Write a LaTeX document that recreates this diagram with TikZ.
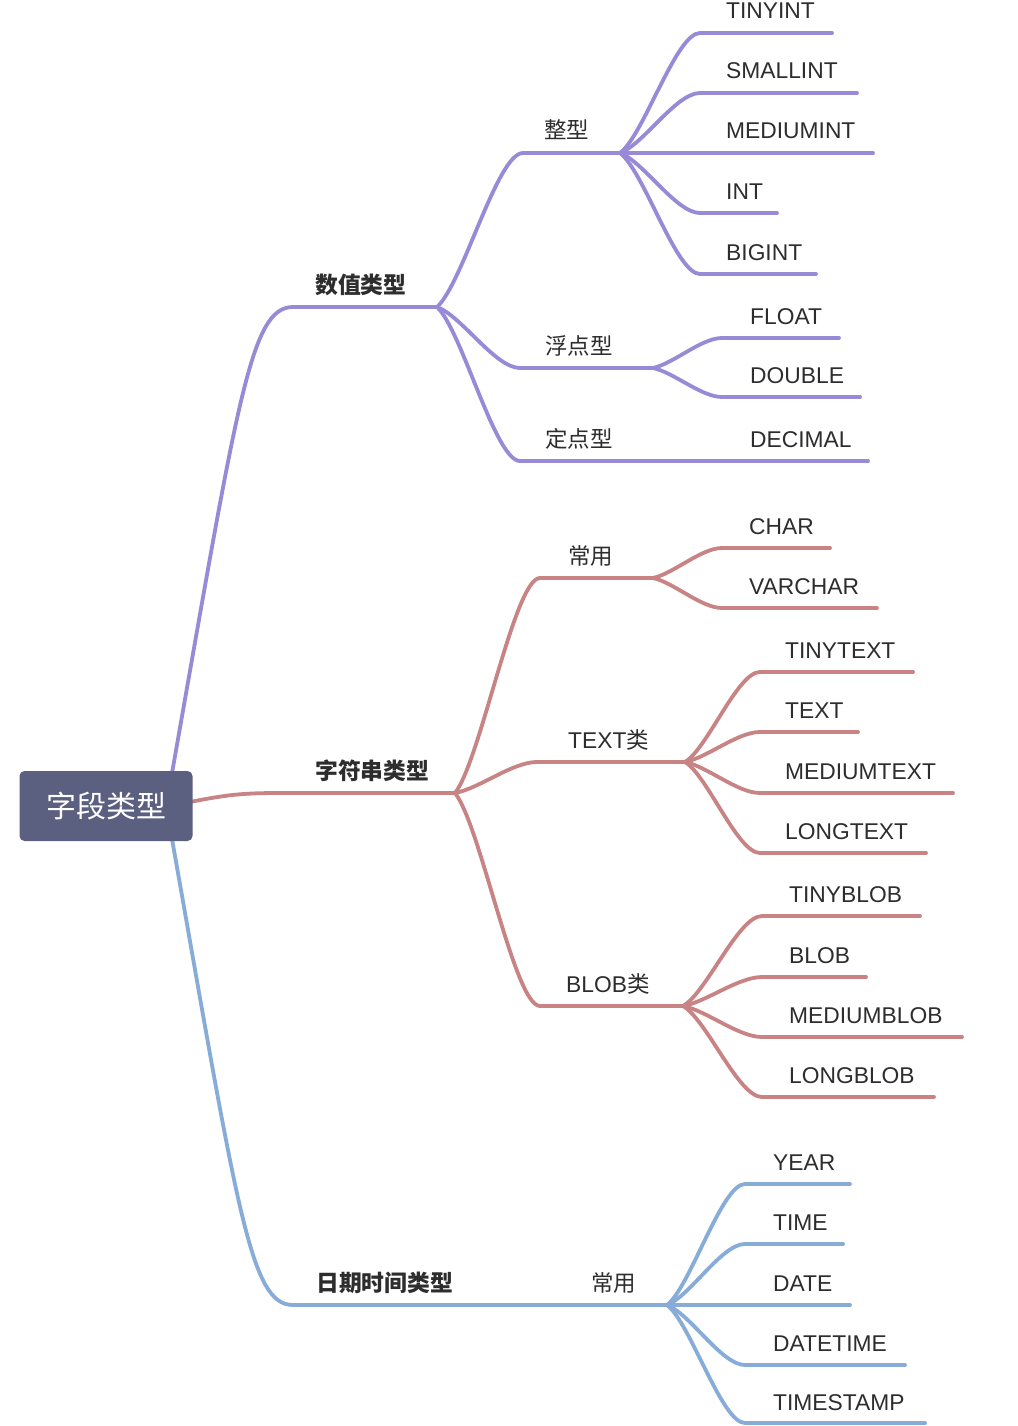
\documentclass[tikz,border=0pt]{standalone}
\usepackage{fontspec}
\setmainfont{Liberation Sans}
\newfontfamily\cjk{Noto Sans CJK SC}
\usetikzlibrary{calc}
\definecolor{pur}{RGB}{152,138,214}
\definecolor{redb}{RGB}{200,132,132}
\definecolor{blu}{RGB}{135,172,215}
\definecolor{txt}{RGB}{45,45,45}
\definecolor{rootfill}{RGB}{91,95,128}
\newcommand\mmlink[3]{\draw[#3] let \p1=(#1), \p2=(#2) in (\p1) .. controls ({\x1+0.3*(\x2-\x1)},{\y1+0.15*(\y2-\y1)}) and ({\x1+0.7*(\x2-\x1)},\y2) .. (\p2);}
\begin{document}
\begin{tikzpicture}[x=1pt,y=-1pt,
  pline/.style={draw=pur,line width=3.8pt,line cap=round},
  rline/.style={draw=redb,line width=3.8pt,line cap=round},
  bline/.style={draw=blu,line width=3.8pt,line cap=round},
  lbl/.style={anchor=base west,inner sep=0pt,text=txt,font=\fontsize{22.8}{24}\selectfont},
  zlbl/.style={anchor=base west,inner sep=0pt,text=txt,font=\cjk\fontsize{22.5}{24}\selectfont},
  mlbl/.style={anchor=base west,inner sep=0pt,text=txt,font=\fontsize{22.8}{24}\selectfont},
  onelbl/.style={anchor=base west,inner sep=0pt,text=txt,font=\cjk\bfseries\fontsize{22.8}{24}\selectfont},
  rootbox/.style={fill=rootfill,rounded corners=5pt,minimum width=173pt,minimum height=70pt,inner sep=0pt,text=white,font=\cjk\fontsize{30}{31}\selectfont}]
\useasboundingbox (0,0) rectangle (1017,1426);
\fill[white] (0,0) rectangle (1017,1426);

% ---------- coordinates ----------
\coordinate (r1) at (169,790);
\coordinate (r2) at (185,803);
\coordinate (r3) at (169,822);
% numeric
\coordinate (numS) at (293,307); \coordinate (numE) at (437,307);
\coordinate (intS) at (523,153); \coordinate (intE) at (620,153);
\coordinate (tiS) at (700,33);  \coordinate (tiE) at (832,33);
\coordinate (siS) at (700,93);  \coordinate (siE) at (857,93);
\coordinate (miS) at (700,153); \coordinate (miE) at (873,153);
\coordinate (inS) at (700,213); \coordinate (inE) at (777,213);
\coordinate (biS) at (700,274); \coordinate (biE) at (816,274);
\coordinate (fltS) at (520,368); \coordinate (fltE) at (653,368);
\coordinate (flS) at (722,338); \coordinate (flE) at (839,338);
\coordinate (doS) at (722,397); \coordinate (doE) at (860,397);
\coordinate (fixS) at (520,461); \coordinate (fixE) at (653,461);
\coordinate (deS) at (722,461); \coordinate (deE) at (868,461);
% string
\coordinate (strS) at (280,793); \coordinate (strE) at (455,793);
\coordinate (cyS) at (540,578); \coordinate (cyE) at (653,578);
\coordinate (chS) at (722,548); \coordinate (chE) at (830,548);
\coordinate (vcS) at (722,608); \coordinate (vcE) at (877,608);
\coordinate (txS) at (537,762); \coordinate (txE) at (685,762);
\coordinate (ttS) at (760,672); \coordinate (ttE) at (913,672);
\coordinate (teS) at (760,732); \coordinate (teE) at (858,732);
\coordinate (mtS) at (760,793); \coordinate (mtE) at (953,793);
\coordinate (ltS) at (760,853); \coordinate (ltE) at (926,853);
\coordinate (blS) at (540,1006); \coordinate (blE) at (683,1006);
\coordinate (tbS) at (762,916); \coordinate (tbE) at (920,916);
\coordinate (bbS) at (762,977); \coordinate (bbE) at (866,977);
\coordinate (mbS) at (762,1037); \coordinate (mbE) at (962,1037);
\coordinate (lbS) at (762,1097); \coordinate (lbE) at (934,1097);
% date
\coordinate (dtS) at (293,1305); \coordinate (dtE) at (455,1305);
\coordinate (cy2S) at (570,1305); \coordinate (cy2E) at (667,1305);
\coordinate (yrS) at (745,1184); \coordinate (yrE) at (850,1184);
\coordinate (tmS) at (745,1244); \coordinate (tmE) at (843,1244);
\coordinate (daS) at (745,1305); \coordinate (daE) at (850,1305);
\coordinate (dmS) at (745,1365); \coordinate (dmE) at (905,1365);
\coordinate (tsS) at (745,1423); \coordinate (tsE) at (925,1423);

% ---------- purple branch ----------
\draw[pline] (r1) .. controls (238,400) and (250,307) .. (numS);
\draw[pline] (numS) -- (numE);
\mmlink{numE}{intS}{pline} \draw[pline] (intS) -- (intE);
\mmlink{intE}{tiS}{pline} \draw[pline] (tiS) -- (tiE);
\mmlink{intE}{siS}{pline} \draw[pline] (siS) -- (siE);
\mmlink{intE}{miS}{pline} \draw[pline] (miS) -- (miE);
\mmlink{intE}{inS}{pline} \draw[pline] (inS) -- (inE);
\mmlink{intE}{biS}{pline} \draw[pline] (biS) -- (biE);
\mmlink{numE}{fltS}{pline} \draw[pline] (fltS) -- (fltE);
\mmlink{fltE}{flS}{pline} \draw[pline] (flS) -- (flE);
\mmlink{fltE}{doS}{pline} \draw[pline] (doS) -- (doE);
\mmlink{numE}{fixS}{pline} \draw[pline] (fixS) -- (fixE);
\draw[pline] (fixE) -- (deS) -- (deE);

% ---------- red branch ----------
\draw[rline] (r2) .. controls (225,795) and (240,793) .. (strS);
\draw[rline] (strS) -- (strE);
\mmlink{strE}{cyS}{rline} \draw[rline] (cyS) -- (cyE);
\mmlink{cyE}{chS}{rline} \draw[rline] (chS) -- (chE);
\mmlink{cyE}{vcS}{rline} \draw[rline] (vcS) -- (vcE);
\mmlink{strE}{txS}{rline} \draw[rline] (txS) -- (txE);
\mmlink{txE}{ttS}{rline} \draw[rline] (ttS) -- (ttE);
\mmlink{txE}{teS}{rline} \draw[rline] (teS) -- (teE);
\mmlink{txE}{mtS}{rline} \draw[rline] (mtS) -- (mtE);
\mmlink{txE}{ltS}{rline} \draw[rline] (ltS) -- (ltE);
\mmlink{strE}{blS}{rline} \draw[rline] (blS) -- (blE);
\mmlink{blE}{tbS}{rline} \draw[rline] (tbS) -- (tbE);
\mmlink{blE}{bbS}{rline} \draw[rline] (bbS) -- (bbE);
\mmlink{blE}{mbS}{rline} \draw[rline] (mbS) -- (mbE);
\mmlink{blE}{lbS}{rline} \draw[rline] (lbS) -- (lbE);

% ---------- blue branch ----------
\draw[bline] (r3) .. controls (238,1212) and (250,1305) .. (dtS);
\draw[bline] (dtS) -- (dtE) -- (cy2S) -- (cy2E);
\mmlink{cy2E}{yrS}{bline} \draw[bline] (yrS) -- (yrE);
\mmlink{cy2E}{tmS}{bline} \draw[bline] (tmS) -- (tmE);
\mmlink{cy2E}{daS}{bline} \draw[bline] (daS) -- (daE);
\mmlink{cy2E}{dmS}{bline} \draw[bline] (dmS) -- (dmE);
\mmlink{cy2E}{tsS}{bline} \draw[bline] (tsS) -- (tsE);

% ---------- root ----------
\node[rootbox] (root) at (106,806) {字段类型};

% ---------- labels ----------
\node[onelbl] (num) at (315,293) {数值类型};
\node[zlbl] (int) at (544,139) {整型};
\node[lbl] (ti) at (726,19) {TINYINT};
\node[lbl] (si) at (726,79) {SMALLINT};
\node[lbl] (mi) at (726,139) {MEDIUMINT};
\node[lbl] (in) at (726,199) {INT};
\node[lbl] (bi) at (726,260) {BIGINT};
\node[zlbl] (flt) at (545,354) {浮点型};
\node[lbl] (fl) at (750,324) {FLOAT};
\node[lbl] (do) at (750,383) {DOUBLE};
\node[zlbl] (fix) at (545,447) {定点型};
\node[lbl] (de) at (750,447) {DECIMAL};

\node[onelbl] (str) at (315,779) {字符串类型};
\node[zlbl] (cy) at (568,564) {常用};
\node[lbl] (ch) at (749,534) {CHAR};
\node[lbl] (vc) at (749,594) {VARCHAR};
\node[mlbl] (tx) at (568,748) {TEXT{\cjk\fontsize{22.5}{24}\selectfont 类}};
\node[lbl] (tt) at (785,658) {TINYTEXT};
\node[lbl] (te) at (785,718) {TEXT};
\node[lbl] (mt) at (785,779) {MEDIUMTEXT};
\node[lbl] (lt) at (785,839) {LONGTEXT};
\node[mlbl] (bl) at (566,992) {BLOB{\cjk\fontsize{22.5}{24}\selectfont 类}};
\node[lbl] (tb) at (789,902) {TINYBLOB};
\node[lbl] (bb) at (789,963) {BLOB};
\node[lbl] (mb) at (789,1023) {MEDIUMBLOB};
\node[lbl] (lb) at (789,1083) {LONGBLOB};

\node[onelbl] (dt) at (316,1291) {日期时间类型};
\node[zlbl] (cy2) at (591,1291) {常用};
\node[lbl] (yr) at (773,1170) {YEAR};
\node[lbl] (tm) at (773,1230) {TIME};
\node[lbl] (da) at (773,1291) {DATE};
\node[lbl] (dm) at (773,1351) {DATETIME};
\node[lbl] (ts) at (773,1410) {TIMESTAMP};
\end{tikzpicture}
\end{document}
